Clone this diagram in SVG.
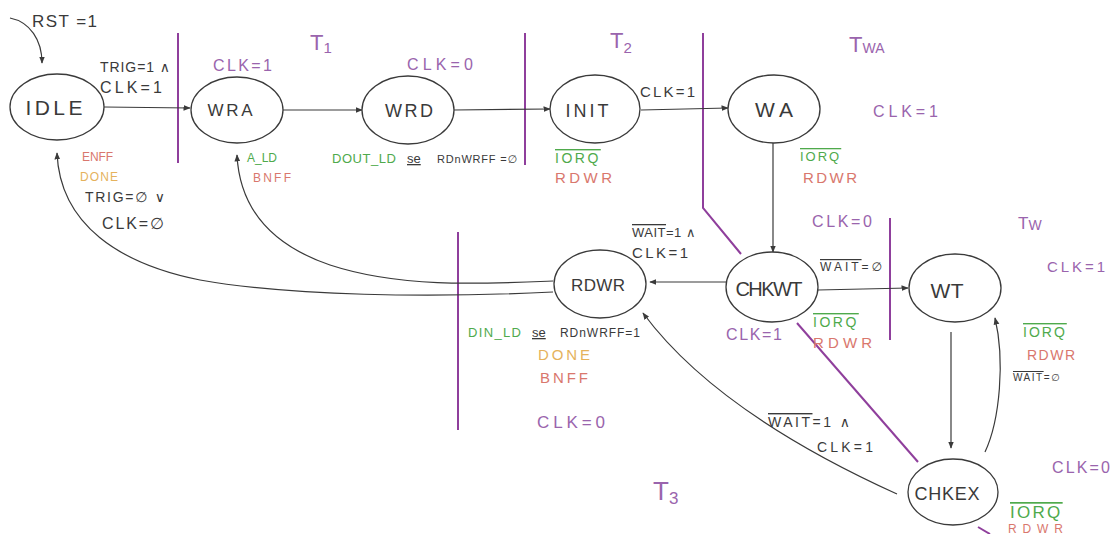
<svg xmlns="http://www.w3.org/2000/svg" width="1111" height="534" viewBox="0 0 1111 534" font-size="14">
<style>
text{font-family:"Liberation Sans","DejaVu Sans",sans-serif;}
.k{fill:#3a3a3a}.p{fill:#9a64ad}.g{fill:#4faa4c}.r{fill:#d9776d}.o{fill:#e5b25c}
.n{fill:#3a3a3a;text-anchor:middle}
.ov{text-decoration:overline}.un{text-decoration:underline}
ellipse{fill:#fff;stroke:#3a3a3a;stroke-width:1.3}
.c{fill:none;stroke:#3a3a3a;stroke-width:1.2;marker-end:url(#ah)}
.b{fill:none;stroke:#8f3f9c;stroke-width:2}
</style>
<defs>
<marker id="ah" viewBox="0 0 10 10" refX="9" refY="5" markerWidth="6" markerHeight="6" orient="auto"><path d="M0,1 L10,5 L0,9 z" fill="#3a3a3a"/></marker>
</defs>
<rect width="1111" height="534" fill="#fff"/>
<g id="boundaries">
<path class="b" d="M178 33V163"/>
<path class="b" d="M525 33V165"/>
<path class="b" d="M703 33V208L741 254"/>
<path class="b" d="M890 218V340"/>
<path class="b" d="M458 232V430"/>
<path class="b" d="M797 323L918 462"/>
<path class="b" d="M978 527L990 534"/>
</g>
<g id="connectors">
<path class="c" d="M10 18C30 22 42 40 42 63"/>
<path class="c" d="M104 107L190 108"/>
<path class="c" d="M283 110L362 110"/>
<path class="c" d="M454 110L550 109"/>
<path class="c" d="M641 110L728 108"/>
<path class="c" d="M773 143L773 252"/>
<path class="c" d="M726 282L650 282"/>
<path class="c" d="M818 290L908 288"/>
<path class="c" d="M951 332L951 448"/>
<path class="c" d="M985 452C1000 420 1005 360 995 318"/>
<path class="c" d="M897 494C800 450 700 390 643 313"/>
<path class="c" d="M553 292C430 298 290 296 200 280C120 264 60 225 57 153"/>
<path class="c" d="M553 281C480 284 400 288 330 265C280 248 240 215 237 155"/>
</g>
<g id="IDLE"><ellipse cx="57" cy="107" rx="47" ry="33"/><text class="n" x="54" y="115" font-size="21" textLength="57" lengthAdjust="spacing">IDLE</text></g>
<g id="WRA"><ellipse cx="237" cy="110" rx="46" ry="33"/><text class="n" x="230" y="116" font-size="17" textLength="45" lengthAdjust="spacing">WRA</text></g>
<g id="WRD"><ellipse cx="408" cy="110" rx="46" ry="34"/><text class="n" x="409" y="117" font-size="18" textLength="48" lengthAdjust="spacing">WRD</text></g>
<g id="INIT"><ellipse cx="595" cy="109" rx="45" ry="34"/><text class="n" x="587" y="117" font-size="18" textLength="43" lengthAdjust="spacing">INIT</text></g>
<g id="WA"><ellipse cx="774" cy="109" rx="46" ry="34"/><text class="n" x="774" y="117" font-size="21" textLength="38" lengthAdjust="spacing">WA</text></g>
<g id="RDWR"><ellipse cx="600" cy="284" rx="46" ry="34"/><text class="n" x="598" y="291" font-size="17" textLength="54" lengthAdjust="spacing">RDWR</text></g>
<g id="CHKWT"><ellipse cx="772" cy="287" rx="46" ry="35"/><text class="n" x="769" y="296" font-size="20" textLength="67" lengthAdjust="spacing">CHKWT</text></g>
<g id="WT"><ellipse cx="955" cy="288" rx="46" ry="34"/><text class="n" x="947" y="298" font-size="21" textLength="33" lengthAdjust="spacing">WT</text></g>
<g id="CHKEX"><ellipse cx="953" cy="492" rx="45" ry="33"/><text class="n" x="947" y="500" font-size="18" textLength="65" lengthAdjust="spacing">CHKEX</text></g>
<g id="labels">
<text class="k" x="32" y="27" font-size="17" textLength="65" lengthAdjust="spacing">RST =1</text>
<text class="k" x="100" y="72" font-size="14" textLength="70" lengthAdjust="spacing">TRIG=1 ∧</text>
<text class="k" x="100" y="93" font-size="16" textLength="62" lengthAdjust="spacing">CLK=1</text>
<text class="p" x="213" y="71" font-size="16" textLength="59" lengthAdjust="spacing">CLK=1</text>
<text class="p" x="310" y="50" font-size="22">T<tspan font-size="15" dy="3">1</tspan></text>
<text class="p" x="407" y="70" font-size="16" textLength="66" lengthAdjust="spacing">CLK=0</text>
<text class="p" x="610" y="48" font-size="22">T<tspan font-size="15" dy="5">2</tspan></text>
<text class="k" x="640" y="97" font-size="15" textLength="55" lengthAdjust="spacing">CLK=1</text>
<text class="p" x="849" y="52" font-size="22">T<tspan font-size="14" dy="1">WA</tspan></text>
<text class="p" x="873" y="117" font-size="16" textLength="65" lengthAdjust="spacing">CLK=1</text>
<text class="r" x="82" y="161" font-size="12" textLength="31" lengthAdjust="spacing">ENFF</text>
<text class="o" x="80" y="181" font-size="12" textLength="38" lengthAdjust="spacing">DONE</text>
<text class="k" x="85" y="202" font-size="14" textLength="80" lengthAdjust="spacing">TRIG=∅ ∨</text>
<text class="k" x="102" y="229" font-size="16" textLength="62" lengthAdjust="spacing">CLK=∅</text>
<text class="g" x="247" y="162" font-size="12" textLength="30" lengthAdjust="spacing">A_LD</text>
<text class="r" x="253" y="182" font-size="12" textLength="38" lengthAdjust="spacing">BNFF</text>
<text class="g" x="332" y="163" font-size="13" textLength="64" lengthAdjust="spacing">DOUT_LD</text>
<text class="k un" x="407" y="163" font-size="13">se</text>
<text class="k" x="437" y="163" font-size="11" textLength="80" lengthAdjust="spacing">RDnWRFF =∅</text>
<text class="g" x="555" y="163" font-size="14" letter-spacing="2.5"><tspan class="ov">IORQ</tspan></text>
<text class="r" x="555" y="183" font-size="15" textLength="57" lengthAdjust="spacing">RDWR</text>
<text class="g" x="800" y="161" font-size="13" letter-spacing="2"><tspan class="ov">IORQ</tspan></text>
<text class="r" x="803" y="183" font-size="15" textLength="54" lengthAdjust="spacing">RDWR</text>
<text class="p" x="812" y="227" font-size="16" textLength="60" lengthAdjust="spacing">CLK=0</text>
<text class="p" x="1018" y="229" font-size="17">T<tspan font-size="14" dy="1">W</tspan></text>
<text class="p" x="1047" y="272" font-size="15" textLength="58" lengthAdjust="spacing">CLK=1</text>
<text class="k" x="632" y="237" font-size="13" letter-spacing="0.5"><tspan class="ov">WAIT</tspan>=1 ∧</text>
<text class="k" x="632" y="258" font-size="15" textLength="56" lengthAdjust="spacing">CLK=1</text>
<text class="k" x="820" y="271" font-size="12" letter-spacing="3"><tspan class="ov">WAIT</tspan>=∅</text>
<text class="g" x="813" y="327" font-size="14" letter-spacing="2.5"><tspan class="ov">IORQ</tspan></text>
<text class="r" x="813" y="348" font-size="15" textLength="59" lengthAdjust="spacing">RDWR</text>
<text class="p" x="726" y="340" font-size="16" textLength="56" lengthAdjust="spacing">CLK=1</text>
<text class="g" x="468" y="337" font-size="13" textLength="53" lengthAdjust="spacing">DIN_LD</text>
<text class="k un" x="532" y="337" font-size="13">se</text>
<text class="k" x="560" y="337" font-size="12" textLength="80" lengthAdjust="spacing">RDnWRFF=1</text>
<text class="o" x="538" y="360" font-size="15" textLength="52" lengthAdjust="spacing">DONE</text>
<text class="r" x="540" y="383" font-size="15" textLength="48" lengthAdjust="spacing">BNFF</text>
<text class="p" x="537" y="428" font-size="17" textLength="68" lengthAdjust="spacing">CLK=0</text>
<text class="p" x="653" y="500" font-size="26">T<tspan font-size="17" dy="4">3</tspan></text>
<text class="k" x="768" y="427" font-size="14" letter-spacing="2.5"><tspan class="ov">WAIT</tspan>=1 ∧</text>
<text class="k" x="817" y="452" font-size="14" textLength="56" lengthAdjust="spacing">CLK=1</text>
<text class="g" x="1023" y="337" font-size="14" letter-spacing="2"><tspan class="ov">IORQ</tspan></text>
<text class="r" x="1027" y="360" font-size="14" textLength="48" lengthAdjust="spacing">RDWR</text>
<text class="k" x="1013" y="381" font-size="10" letter-spacing="1.5"><tspan class="ov">WAIT</tspan>=∅</text>
<text class="p" x="1052" y="473" font-size="16" textLength="58" lengthAdjust="spacing">CLK=0</text>
<text class="g" x="1010" y="518" font-size="17" letter-spacing="2.3"><tspan class="ov">IORQ</tspan></text>
<text class="r" x="1008" y="533" font-size="12" textLength="55" lengthAdjust="spacing">RDWR</text>
</g>
</svg>
